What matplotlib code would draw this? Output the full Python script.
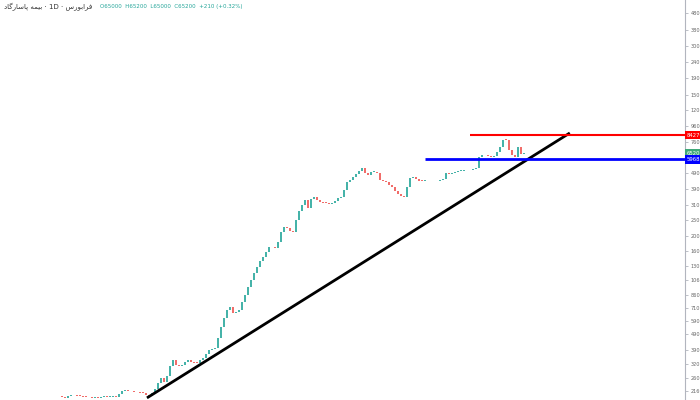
import numpy as np
import matplotlib
matplotlib.use("Agg")
import matplotlib.pyplot as plt
import matplotlib.ticker as ticker
import matplotlib.transforms as mtransforms

# daily closes (log price axis)
closes = [
    1990, 1970, 2010, 2040, 2060, 2030, 2020, 2000, 1990, 1980,
    1960, 1970, 1960, 1990, 2000, 1990, 2000, 2010, 2000, 2090,
    2170, 2180, 2170, 2160, 2140, 2130, 2120, 2110, 2060, 2020,
    2110, 2230, 2420, 2610, 2470, 2700, 3100, 3380, 3150, 3120,
    3150, 3260, 3380, 3290, 3250, 3240, 3380, 3480, 3700, 3880,
    3950, 4010, 4600, 5400, 6200, 6900, 7210, 6620, 6710, 6900,
    7700, 8560, 9600, 10600, 11800, 12800, 14000, 14700, 15900, 16900,
    17000, 16800, 18300, 21000, 22600, 22300, 21500, 21100, 25000, 28500,
    31000, 33300, 29700, 33800, 34800, 33500, 32400, 32000, 31900, 31500,
    31900, 33000, 34300, 35000, 38400, 43100, 44500, 46300, 48500, 50500,
    52600, 49000, 47600, 49700, 49700, 49000, 44400, 43700, 43100, 41500,
    40000, 38000, 36500, 35300, 35000, 40000, 45600, 46300, 45000, 44000,
    43700, 43800, 43600, 43700, 43400, 44000, 44300, 45200, 49000, 48500,
    49200, 49600, 50400, 50400, 51000, 51100, 51500, 51900, 53000, 62000,
    63400, 63000, 62500, 61600, 62600, 66000, 71000, 79000, 78500, 68000,
    63400, 61500, 71100, 64000, 65300, 65000, 64800, 65200,
]
first_open = 2010

# drawn levels and trend line (bar index, price)
resistance = 84270
resistance_from = 136
support = 59683
support_from = 121
trend_start = (28.3, 1963)
trend_end = (169.3, 86860)
last_price = 65200

y_ticks = [2160, 2600, 3200, 3900, 4900, 5900, 7100, 8600, 10600, 13000,
           16000, 20000, 25000, 31000, 39000, 49000, 76000, 96000, 120000,
           150000, 190000, 240000, 300000, 380000, 480000, 600000]

# symbol / interval / exchange, stored pre-shaped in visual order
title = ("\uFEA9\uFE8E\uFB94\uFEAD\uFE8E\uFEB3\uFE8E\uFB58 \uFEEA\uFEE4\uFBFF\uFE91"
         " \u00b7 1D \u00b7 \uFEB1\uFEAD\uFEEE\uFE91\uFE8D\uFEAE\uFED3")
ohlc_text = "O65000  H65200  L65000  C65200  +210 (+0.32%)"

UP = "#26a69a"
DOWN = "#ef5350"

fig = plt.figure(figsize=(7, 4), dpi=100)
ax = fig.add_axes([0, 0, 685 / 700, 1])

closes = np.array(closes, dtype=float)
opens = np.concatenate([[first_open], closes[:-1]])
idx = np.arange(len(closes))
up = closes >= opens
colors = np.where(up, UP, DOWN)
body_lo = np.minimum(opens, closes)
body_hi = np.maximum(np.maximum(opens, closes), body_lo * 1.008)  # dojis stay visible
ax.bar(idx, body_hi - body_lo, bottom=body_lo, width=0.5, color=colors,
       linewidth=0, alpha=0.85)

ax.plot([trend_start[0], trend_end[0]], [trend_start[1], trend_end[1]],
        color="black", lw=2.0, solid_capstyle="butt")

ax.set_yscale("log")
ax.set_ylim(1905, 582000)
ax.set_xlim(-20.7, 207.7)

ax.hlines(resistance, resistance_from, 207.7, color="#ff0000", lw=1.5)
ax.hlines(support, support_from, 207.7, color="#0000ff", lw=2.0)

for s in ["top", "left", "bottom"]:
    ax.spines[s].set_visible(False)
ax.spines["right"].set_color("#b2b5be")
ax.spines["right"].set_linewidth(0.8)
ax.xaxis.set_visible(False)
ax.yaxis.tick_right()
ax.yaxis.set_major_locator(ticker.FixedLocator(y_ticks))
ax.yaxis.set_major_formatter(ticker.FixedFormatter([str(t) for t in y_ticks]))
ax.yaxis.set_minor_locator(ticker.NullLocator())
ax.tick_params(axis="y", length=2.5, width=0.6, color="#b2b5be",
               labelsize=3.6, labelcolor="#666666", pad=1.5)

trans = mtransforms.blended_transform_factory(ax.transAxes, ax.transData)
for price, col in [(resistance, "#ff0000"), (last_price, "#3fa878"),
                   (support, "#0000ff")]:
    ax.text(1.003, price, str(price), transform=trans, fontsize=3.8,
            color="white", va="center", ha="left", clip_on=False,
            bbox=dict(boxstyle="square,pad=0.35", fc=col, ec="none"))

fig.text(0.005, 0.992, title, fontsize=5, color="#333333", va="top",
         ha="left", family=["DejaVu Sans"])
fig.text(0.143, 0.99, ohlc_text, fontsize=4, color=UP, va="top",
         ha="left")

fig.savefig("out.png", dpi=100)
